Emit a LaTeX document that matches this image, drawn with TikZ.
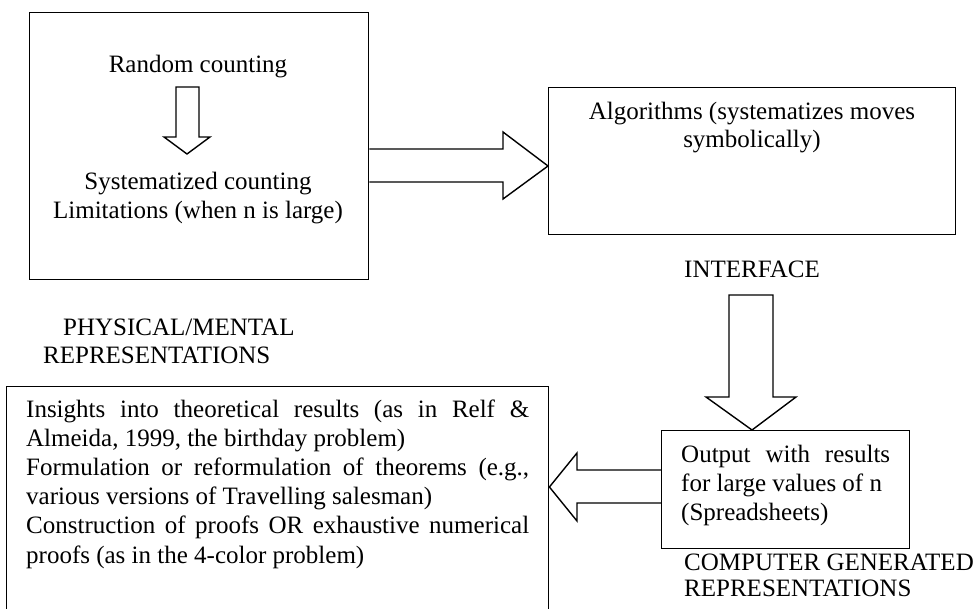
\documentclass[tikz,border=0pt]{standalone}
\usepackage{fontspec}
\setmainfont{Liberation Serif}
\begin{document}
\begin{tikzpicture}[x=1pt,y=-1pt,
  box/.style={draw, line width=1.4pt, inner sep=0pt, anchor=north west},
  fat/.style={draw, line width=1.4pt, line join=miter},
  txt/.style={inner sep=0pt, anchor=base, font=\fontsize{25}{29}\selectfont},
  txtl/.style={inner sep=0pt, anchor=base west, font=\fontsize{25}{29}\selectfont}]
\clip (0,0) rectangle (978,609);
% boxes
\node[box, minimum width=339pt, minimum height=267pt] (phys) at (29,12) {};
\node[box, minimum width=407pt, minimum height=147pt] (algo) at (548,87) {};
\node[box, minimum width=248pt, minimum height=118pt] (out) at (661,430) {};
\node[box, minimum width=542pt, minimum height=260pt] (ins) at (6,386) {};
% texts in top-left box
\node[txt] (rc) at (198,73) {Random counting};
\node[txt] (sc) at (198,190) {Systematized counting};
\node[txt] (lim) at (198,219) {Limitations (when n is large)};
% small arrow
\draw[fat] (176,87) -- (199,87) -- (199,137) -- (210,137) -- (187,154) -- (164,137) -- (176,137) -- cycle;
% algorithms
\node[txt] (al1) at (752,120) {Algorithms (systematizes moves};
\node[txt] (al2) at (752,148) {symbolically)};
\node[txt] (intf) at (752,278) {INTERFACE};
% labels
\node[txtl] (pm1) at (63,336) {PHYSICAL/MENTAL};
\node[txtl] (pm2) at (43,364) {REPRESENTATIONS};
% insights
\node[txtl] (i1) at (26,418) {\makebox[503pt][s]{Insights into theoretical results (as in Relf \&}};
\node[txtl] (i2) at (26,447) {Almeida, 1999, the birthday problem)};
\node[txtl] (i3) at (26,476) {\makebox[503pt][s]{Formulation or reformulation of theorems (e.g.,}};
\node[txtl] (i4) at (26,505) {various versions of Travelling salesman)};
\node[txtl] (i5) at (26,534) {\makebox[503pt][s]{Construction of proofs OR exhaustive numerical}};
\node[txtl] (i6) at (26,563) {proofs (as in the 4-color problem)};
% output
\node[txtl] (o1) at (681,463) {\makebox[209pt][s]{Output with results}};
\node[txtl] (o2) at (681,492) {for large values of n};
\node[txtl] (o3) at (681,521) {(Spreadsheets)};
\node[txtl] (cg1) at (684,570) {COMPUTER GENERATED};
\node[txtl] (cg2) at (684,596) {REPRESENTATIONS};
% big arrows
\draw[fat] (phys.east |- 0,149) -- (503,149) -- (503,132) -- (algo.west |- 0,166)
  -- (503,199) -- (503,182) -- (phys.east |- 0,182);
\draw[fat] (729,295) -- (729,397) -- (706,397) -- (752,0 |- out.north)
  -- (796,397) -- (773,397) -- (773,295) -- cycle;
\draw[fat] (out.west |- 0,470) -- (577,470) -- (577,453) -- (ins.east |- 0,487)
  -- (577,521) -- (577,503) -- (out.west |- 0,503);
\end{tikzpicture}
\end{document}
